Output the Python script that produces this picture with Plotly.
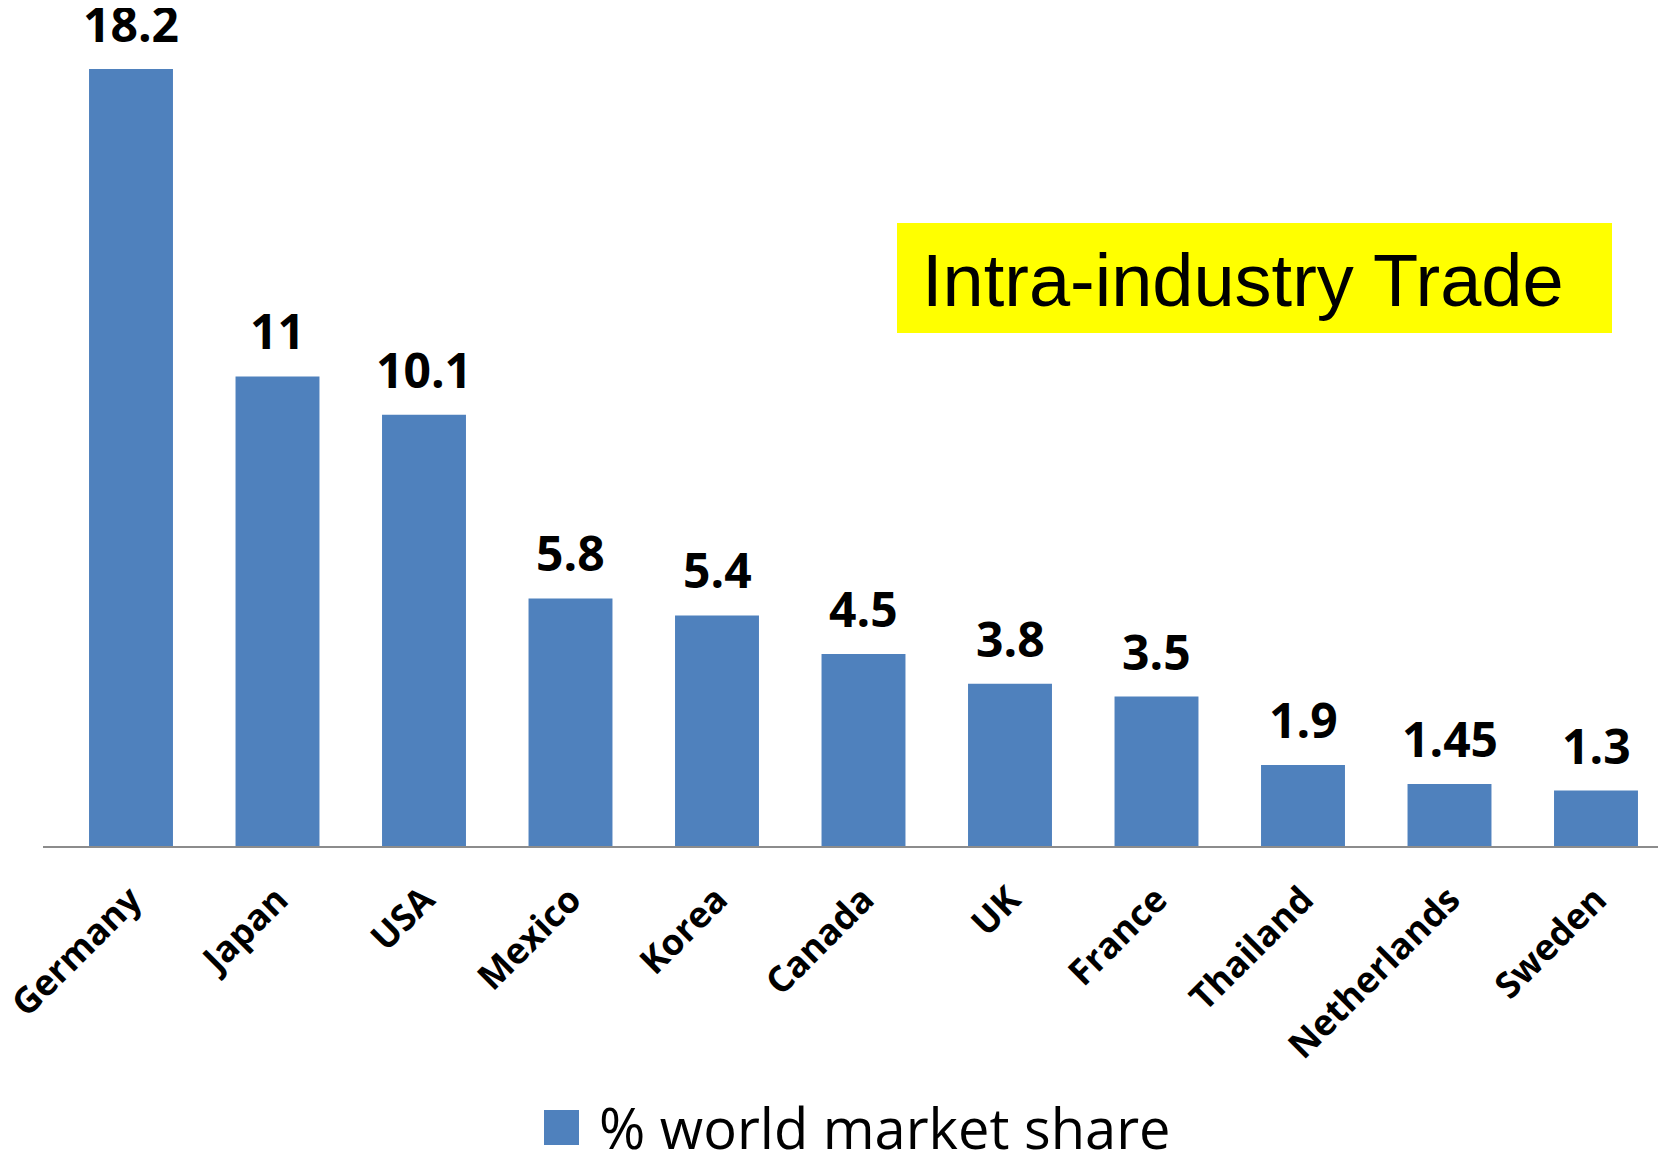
import plotly.graph_objects as go

countries = ["Germany", "Japan", "USA", "Mexico", "Korea", "Canada", "UK",
             "France", "Thailand", "Netherlands", "Sweden"]
share = [18.2, 11, 10.1, 5.8, 5.4, 4.5, 3.8, 3.5, 1.9, 1.45, 1.3]
value_labels = ["18.2", "11", "10.1", "5.8", "5.4", "4.5", "3.8", "3.5", "1.9", "1.45", "1.3"]
series_name = "% world market share"
chart_title = "Intra-industry Trade"

BAR_COLOR = "#4F81BD"
OFF = 8  # default page body margin
W, H = 1666 - OFF, 1153 - OFF
ML, MR, MT = 43 - OFF, 0, 0
AXIS_Y = 846 - OFF
MB = H - AXIS_Y
PW, PH = W - ML - MR, H - MT - MB


def px(x):
    return (x - OFF - ML) / PW


def py(y):
    return (AXIS_Y - (y - OFF)) / PH


fig = go.Figure()
fig.add_trace(go.Bar(
    x=countries, y=share, name=series_name,
    marker=dict(color=BAR_COLOR, line=dict(width=0)),
    showlegend=False,
))

annotations = []
for c, v, t in zip(countries, share, value_labels):
    annotations.append(dict(
        x=c, y=v, xref="x", yref="y", text=t, showarrow=False,
        yanchor="bottom", yshift=11,
        font=dict(family="Open Sans", size=48, color="black", weight="bold"),
    ))

# title box text
annotations.append(dict(
    x=px(920), y=py(280), xref="paper", yref="paper", text=chart_title,
    showarrow=False, xanchor="left", yanchor="middle",
    font=dict(family="Liberation Sans, Arial", size=74, color="black"),
))
# legend text
annotations.append(dict(
    x=px(597), y=py(1127), xref="paper", yref="paper", text=series_name,
    showarrow=False, xanchor="left", yanchor="middle",
    font=dict(family="Open Sans", size=56, color="black"),
))

shapes = [
    dict(type="rect", xref="paper", yref="paper",
         x0=px(897), x1=px(1612), y0=py(333), y1=py(223),
         fillcolor="#FFFF00", line=dict(width=0), layer="below"),
    dict(type="rect", xref="paper", yref="paper",
         x0=px(544), x1=px(579), y0=py(1145), y1=py(1110),
         fillcolor=BAR_COLOR, line=dict(width=0)),
]

PX_PER_UNIT = 42.69
CAT_PITCH = 146.5
fig.update_layout(
    width=W, height=H,
    margin=dict(l=ML, r=MR, t=MT, b=MB, pad=0, autoexpand=False),
    paper_bgcolor="white", plot_bgcolor="white",
    bargap=0.427,
    showlegend=False,
    annotations=annotations,
    shapes=shapes,
    xaxis=dict(
        automargin=False,
        range=[-(131 - 43) / CAT_PITCH, -(131 - 43) / CAT_PITCH + PW / CAT_PITCH],
        showline=True, linecolor="#8C8C8C", linewidth=2,
        ticks="", showgrid=False, zeroline=False,
        tickangle=-45,
        tickfont=dict(family="Open Sans", size=36, color="black", weight="bold"),
        ticklabelstandoff=16,
    ),
    yaxis=dict(
        automargin=False,
        range=[0, PH / PX_PER_UNIT],
        visible=False, showgrid=False, zeroline=False,
    ),
)

fig.write_html("out.html")
